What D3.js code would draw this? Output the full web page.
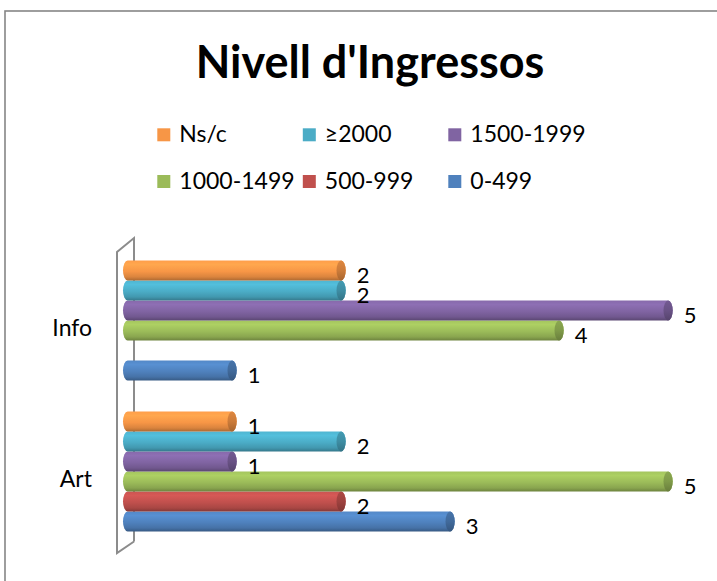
<!DOCTYPE html>
<html>
<head>
<meta charset="utf-8">
<script src="https://cdn.jsdelivr.net/npm/d3@7/dist/d3.min.js"></script>
<style>
  html, body { margin: 0; padding: 0; background: #fff; }
  svg { display: block; }
  text { font-family: Lato, "Liberation Sans", sans-serif; fill: #000; }
</style>
</head>
<body>
<svg id="chart" width="717" height="581"></svg>
<script>
// Categories (top to bottom) and the income bands
const categories = ["Info", "Art"];
const seriesNames = ["0-499", "500-999", "1000-1499", "1500-1999", "≥2000", "Ns/c"];
const seriesColors = ["#4F81BD", "#C0504D", "#9BBB59", "#8064A2", "#4BACC6", "#F79646"];

// Counts per band, in category order [Info, Art]
const s0_499     = [1, 3];
const s500_999   = [0, 2];
const s1000_1499 = [4, 5];
const s1500_1999 = [5, 1];
const s2000      = [2, 2];
const sNsc       = [2, 1];
const seriesValues = [s0_499, s500_999, s1000_1499, s1500_1999, s2000, sNsc];

const titleText = "Nivell d'Ingressos";

const svg = d3.select("#chart");
const defs = svg.append("defs");

// chart frame
svg.append("rect")
  .attr("x", 5).attr("y", 11).attr("width", 800).attr("height", 700)
  .attr("fill", "#fff").attr("stroke", "#868686").attr("stroke-width", 1.6);

// title
svg.append("text")
  .attr("x", 370).attr("y", 78)
  .attr("text-anchor", "middle")
  .attr("font-size", 45).attr("font-weight", "bold")
  .text(titleText);

// scales
const y = d3.scaleBand().domain(categories).range([245, 547]);
const inner = d3.scaleBand().domain(seriesNames.slice().reverse()).range([15.5, 135.5]);
const x = d3.scaleLinear().domain([0, 5]).range([127.7, 672.7]);
const depth = 8.5;   // half of the 3-D depth offset
const rx = 4.6;

// cylinder gradients
seriesNames.forEach((name, i) => {
  const c = d3.color(seriesColors[i]);
  const g = defs.append("linearGradient").attr("id", "grad" + i)
    .attr("x1", 0).attr("y1", 0).attr("x2", 0).attr("y2", 1);
  [[0, c.brighter(0.15)], [0.2, c.brighter(0.3)], [0.55, c], [0.82, c.darker(0.35)], [1, c.darker(1.0)]]
    .forEach(([o, col]) => g.append("stop").attr("offset", o).attr("stop-color", col.formatHex()));
  const gc = defs.append("linearGradient").attr("id", "cap" + i)
    .attr("x1", 0).attr("y1", 0).attr("x2", 0).attr("y2", 1);
  [[0, c.darker(0.3)], [0.5, c.darker(0.55)], [1, c.darker(1.1)]]
    .forEach(([o, col]) => gc.append("stop").attr("offset", o).attr("stop-color", col.formatHex()));
});

// side wall (3-D frame on the category axis)
const yTopBack = y.range()[0] - 7, yBotBack = y.range()[1] - 5.5;
const yTopFront = y.range()[0] + 7, yBotFront = y.range()[1] + 6;
const xBack = x(0) - 4.7 + 2.5 + depth, xFront = x(0) - 4.7 + 2.5 - depth;
svg.append("path")
  .attr("d", `M${xBack},${yBotBack} L${xBack},${yTopBack} L${xFront},${yTopFront} L${xFront},${yBotFront} L${xBack},${yBotBack}`)
  .attr("fill", "none").attr("stroke", "#8c8c8c").attr("stroke-width", 2);

// bar records
const bars = [];
categories.forEach((cat, ci) => {
  seriesNames.forEach((name, si) => {
    const v = seriesValues[si][ci];
    if (v > 0) bars.push({ cat, name, si, v });
  });
});

const barH = inner.bandwidth();
const g = svg.append("g");
bars.forEach(d => {
  const top = y(d.cat) + inner(d.name);
  const bot = top + barH;
  const ry = barH / 2;
  const xl = x(0) - 4.7 + rx;
  const xr = x(d.v) - rx;
  g.append("path")
    .attr("d", `M${xl},${top} L${xr},${top} A${rx},${ry} 0 0 1 ${xr},${bot} L${xl},${bot} A${rx},${ry} 0 0 1 ${xl},${top} Z`)
    .attr("fill", `url(#grad${d.si})`);
  g.append("ellipse")
    .attr("cx", xr).attr("cy", top + ry).attr("rx", rx).attr("ry", ry)
    .attr("fill", `url(#cap${d.si})`);
});

// value labels
svg.append("g").selectAll("text").data(bars).join("text")
  .attr("x", d => x(d.v) + 11)
  .attr("y", d => y(d.cat) + inner(d.name) + barH / 2 + 12)
  .attr("font-size", 22)
  .text(d => d.v);

// category labels
svg.append("g").selectAll("text").data(categories).join("text")
  .attr("x", 92).attr("y", d => y(d) + y.bandwidth() / 2 + 15)
  .attr("text-anchor", "end")
  .attr("font-size", 23)
  .text(d => d);

// legend: three per row, in reverse series order
const legendOrder = seriesNames.map((n, i) => i).reverse();
const legend = svg.append("g");
legendOrder.forEach((si, k) => {
  const col = k % 3, row = Math.floor(k / 3);
  const lx = 157.3 + col * 145.5, ly = 128.3 + row * 46.7;
  legend.append("rect").attr("x", lx).attr("y", ly).attr("width", 13).attr("height", 13)
    .attr("fill", seriesColors[si]);
  legend.append("text").attr("x", lx + 22).attr("y", ly + 13.5)
    .attr("font-size", 23).text(seriesNames[si]);
});
</script>
</body>
</html>
